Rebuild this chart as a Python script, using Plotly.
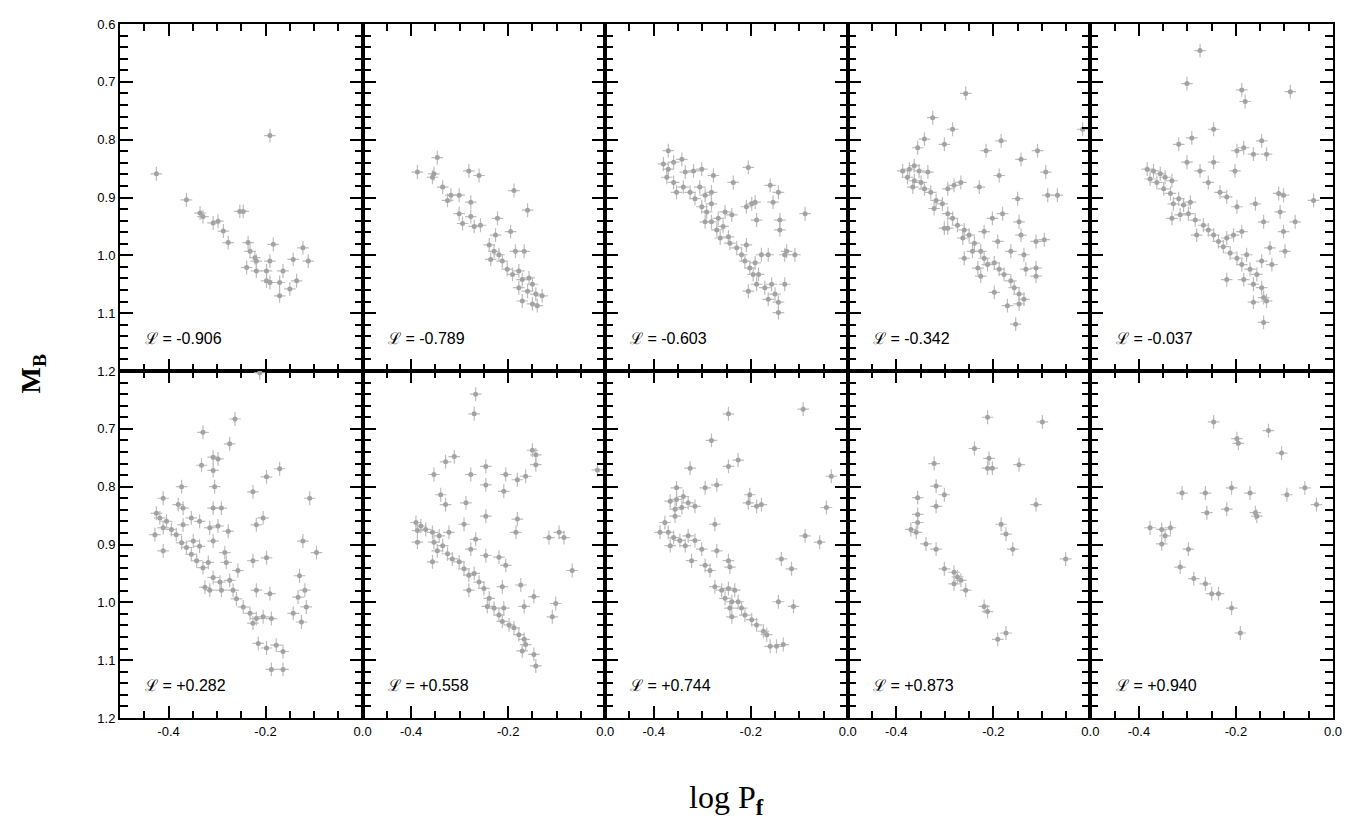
import plotly.graph_objects as go
from plotly.subplots import make_subplots

# ---------------- data (log P_f, M_B) per panel ----------------
L_VALUES = ["-0.906", "-0.789", "-0.603", "-0.342", "-0.037",
            "+0.282", "+0.558", "+0.744", "+0.873", "+0.940"]

P1_LOGP = [-0.191,-0.425,-0.363,-0.335,-0.329,-0.308,-0.298,-0.287,-0.277,-0.253,-0.246,-0.236,-0.232,-0.222,-0.219,
           -0.239,-0.219,-0.198,-0.191,-0.184,-0.198,-0.191,-0.171,-0.164,-0.171,-0.150,-0.136,-0.143,-0.123,-0.112]
P1_MB = [0.793,0.859,0.904,0.927,0.933,0.944,0.941,0.958,0.978,0.924,0.924,0.978,0.993,1.004,1.010,
         1.021,1.027,1.027,1.010,0.981,1.044,1.047,1.047,1.027,1.070,1.058,1.044,1.007,0.987,1.010]

P2_LOGP = [-0.346,-0.387,-0.356,-0.353,-0.335,-0.325,-0.318,-0.301,-0.277,-0.281,-0.260,-0.301,-0.294,-0.277,-0.257,
           -0.270,-0.222,-0.188,-0.160,-0.195,-0.226,-0.239,-0.229,-0.219,-0.236,-0.212,-0.185,-0.167,-0.202,-0.191,
           -0.178,-0.171,-0.157,-0.150,-0.160,-0.143,-0.130,-0.171,-0.150,-0.140,-0.178]
P2_MB = [0.831,0.856,0.865,0.859,0.882,0.905,0.896,0.896,0.908,0.854,0.862,0.928,0.945,0.933,0.948,
         0.950,0.936,0.888,0.922,0.959,0.965,0.982,0.993,0.999,1.007,1.010,0.993,0.993,1.024,1.033,
         1.027,1.042,1.039,1.050,1.062,1.067,1.070,1.079,1.084,1.087,1.056]

P3_LOGP = [-0.370,-0.380,-0.370,-0.359,-0.342,-0.373,-0.359,-0.353,-0.335,-0.318,-0.301,-0.339,-0.325,-0.315,-0.305,
           -0.294,-0.301,-0.291,-0.281,-0.277,-0.281,-0.294,-0.281,-0.267,-0.270,-0.257,-0.263,-0.246,-0.239,-0.253,
           -0.236,-0.243,-0.229,-0.219,-0.209,-0.212,-0.202,-0.191,-0.195,-0.184,-0.178,-0.164,-0.188,-0.205,-0.171,
           -0.157,-0.150,-0.164,-0.143,-0.143,-0.130,-0.130,-0.109,-0.126,-0.198,-0.209,-0.188,-0.160,-0.143,-0.154,
           -0.140,-0.140,-0.205,-0.088,-0.191]
P3_MB = [0.819,0.842,0.851,0.839,0.834,0.865,0.874,0.891,0.856,0.854,0.851,0.882,0.891,0.902,0.882,
         0.896,0.916,0.925,0.911,0.862,0.891,0.942,0.942,0.936,0.956,0.950,0.970,0.968,0.930,0.925,
         0.874,0.979,0.987,0.999,0.982,1.010,1.022,1.013,1.033,1.033,0.999,0.999,1.050,1.062,1.056,
         1.050,1.067,1.076,1.081,1.099,1.050,0.999,0.999,0.993,0.911,0.916,0.939,0.879,0.891,0.908,
         0.939,0.956,0.848,0.928,0.908]

P4_LOGP = [-0.257,-0.325,-0.284,-0.342,-0.356,-0.301,-0.184,-0.215,-0.143,-0.109,-0.092,-0.188,-0.088,-0.068,-0.150,
           -0.229,-0.016,-0.387,-0.373,-0.363,-0.353,-0.335,-0.377,-0.363,-0.349,-0.366,-0.342,-0.329,-0.318,-0.305,
           -0.322,-0.294,-0.281,-0.267,-0.294,-0.284,-0.274,-0.301,-0.260,-0.263,-0.250,-0.239,-0.243,-0.226,-0.219,
           -0.212,-0.198,-0.188,-0.178,-0.164,-0.157,-0.147,-0.137,-0.147,-0.171,-0.198,-0.226,-0.260,-0.154,-0.202,
           -0.181,-0.219,-0.191,-0.164,-0.143,-0.147,-0.112,-0.095,-0.137,-0.112,-0.112,-0.133,-0.232,-0.294]
P4_MB = [0.720,0.762,0.782,0.799,0.814,0.808,0.802,0.819,0.834,0.819,0.856,0.862,0.896,0.896,0.902,
         0.882,0.782,0.854,0.851,0.845,0.854,0.856,0.865,0.871,0.874,0.882,0.885,0.891,0.905,0.911,
         0.919,0.885,0.879,0.874,0.928,0.936,0.948,0.953,0.956,0.970,0.965,0.979,0.993,0.993,1.005,
         1.016,1.013,1.024,1.033,1.044,1.056,1.067,1.076,1.084,1.087,1.064,1.036,1.005,1.119,0.936,
         0.928,0.959,0.976,0.993,0.965,0.942,0.976,0.973,0.999,1.022,1.036,1.024,1.022,0.953]

P5_LOGP = [-0.274,-0.301,-0.188,-0.181,-0.088,-0.246,-0.291,-0.318,-0.301,-0.246,-0.198,-0.184,-0.164,-0.147,-0.137,
           -0.202,-0.274,-0.257,-0.233,-0.219,-0.198,-0.160,-0.112,-0.102,-0.040,-0.109,-0.143,-0.078,-0.102,-0.099,
           -0.130,-0.126,-0.383,-0.370,-0.356,-0.377,-0.363,-0.346,-0.332,-0.349,-0.335,-0.318,-0.329,-0.308,-0.294,
           -0.332,-0.315,-0.298,-0.284,-0.281,-0.267,-0.257,-0.246,-0.236,-0.226,-0.219,-0.205,-0.188,-0.212,-0.198,
           -0.219,-0.188,-0.178,-0.171,-0.157,-0.184,-0.164,-0.147,-0.143,-0.164,-0.137,-0.143,-0.147]
P5_MB = [0.646,0.703,0.714,0.734,0.717,0.782,0.797,0.808,0.839,0.839,0.819,0.814,0.825,0.802,0.825,
         0.854,0.854,0.874,0.891,0.899,0.916,0.911,0.893,0.896,0.905,0.925,0.942,0.942,0.959,0.993,
         0.987,1.016,0.851,0.854,0.859,0.868,0.874,0.865,0.871,0.885,0.893,0.902,0.911,0.913,0.908,
         0.936,0.930,0.928,0.939,0.965,0.948,0.956,0.965,0.976,0.985,0.970,0.965,0.959,0.996,1.005,
         1.042,1.016,0.999,1.024,1.033,1.042,1.050,1.056,1.073,1.081,1.079,1.116,1.010]

P6_LOGP = [-0.212,-0.263,-0.329,-0.274,-0.308,-0.298,-0.332,-0.308,-0.171,-0.198,-0.373,-0.305,-0.226,-0.109,-0.411,
           -0.380,-0.370,-0.308,-0.291,-0.205,-0.219,-0.425,-0.418,-0.404,-0.411,-0.428,-0.394,-0.384,-0.370,-0.353,
           -0.336,-0.315,-0.298,-0.277,-0.373,-0.363,-0.349,-0.336,-0.411,-0.353,-0.342,-0.329,-0.318,-0.308,-0.284,
           -0.281,-0.257,-0.308,-0.294,-0.274,-0.325,-0.315,-0.291,-0.267,-0.260,-0.246,-0.232,-0.219,-0.226,-0.205,
           -0.188,-0.226,-0.198,-0.219,-0.191,-0.130,-0.123,-0.095,-0.119,-0.133,-0.143,-0.126,-0.116,-0.215,-0.198,
           -0.178,-0.164,-0.188,-0.164]
P6_MB = [0.603,0.683,0.706,0.726,0.749,0.752,0.763,0.772,0.769,0.783,0.800,0.800,0.809,0.820,0.820,
         0.831,0.837,0.837,0.837,0.854,0.866,0.846,0.854,0.860,0.871,0.883,0.874,0.883,0.866,0.854,
         0.860,0.871,0.868,0.877,0.897,0.905,0.894,0.903,0.911,0.917,0.928,0.940,0.931,0.894,0.914,
         0.931,0.945,0.957,0.965,0.962,0.974,0.979,0.979,0.979,0.994,1.008,1.019,1.028,1.036,1.025,
         1.028,0.928,0.923,0.979,0.985,0.954,0.894,0.914,0.979,0.991,1.019,1.034,1.008,1.071,1.079,
         1.074,1.085,1.116,1.116]

P7_LOGP = [-0.267,-0.270,-0.150,-0.143,-0.143,-0.311,-0.329,-0.246,-0.353,-0.277,-0.205,-0.181,-0.164,-0.246,-0.209,
           -0.339,-0.329,-0.287,-0.016,-0.246,-0.181,-0.291,-0.184,-0.116,-0.095,-0.085,-0.068,-0.267,-0.277,-0.246,
           -0.219,-0.205,-0.212,-0.174,-0.147,-0.167,-0.102,-0.109,-0.390,-0.380,-0.387,-0.370,-0.356,-0.342,-0.322,
           -0.387,-0.353,-0.335,-0.346,-0.325,-0.315,-0.356,-0.301,-0.291,-0.281,-0.270,-0.260,-0.281,-0.250,-0.239,
           -0.243,-0.229,-0.219,-0.209,-0.212,-0.198,-0.188,-0.178,-0.167,-0.164,-0.171,-0.147,-0.143]
P7_MB = [0.640,0.674,0.737,0.745,0.762,0.748,0.757,0.765,0.779,0.779,0.779,0.788,0.782,0.797,0.808,
         0.814,0.831,0.828,0.771,0.851,0.856,0.865,0.879,0.888,0.879,0.888,0.945,0.891,0.908,0.919,
         0.922,0.936,0.973,0.970,0.990,1.007,1.002,1.025,0.862,0.868,0.876,0.874,0.879,0.885,0.879,
         0.896,0.896,0.902,0.911,0.916,0.925,0.930,0.930,0.942,0.953,0.950,0.965,0.979,0.976,0.993,
         1.007,1.010,1.022,1.010,1.033,1.039,1.044,1.056,1.064,1.073,1.084,1.090,1.110]

P8_LOGP = [-0.246,-0.092,-0.281,-0.226,-0.246,-0.325,-0.034,-0.270,-0.294,-0.353,-0.202,-0.205,-0.188,-0.178,-0.044,
           -0.366,-0.353,-0.339,-0.329,-0.315,-0.356,-0.342,-0.356,-0.377,-0.387,-0.370,-0.359,-0.346,-0.329,-0.315,
           -0.366,-0.335,-0.301,-0.274,-0.270,-0.322,-0.294,-0.284,-0.246,-0.243,-0.088,-0.058,-0.137,-0.116,-0.274,
           -0.260,-0.246,-0.233,-0.253,-0.239,-0.226,-0.243,-0.239,-0.219,-0.212,-0.198,-0.188,-0.174,-0.167,-0.160,
           -0.147,-0.133,-0.143,-0.112]
P8_MB = [0.674,0.666,0.720,0.754,0.765,0.768,0.782,0.797,0.802,0.802,0.814,0.828,0.834,0.831,0.836,
         0.825,0.822,0.817,0.828,0.834,0.839,0.836,0.851,0.862,0.879,0.879,0.888,0.893,0.885,0.893,
         0.902,0.902,0.908,0.865,0.911,0.928,0.936,0.945,0.928,0.939,0.885,0.896,0.925,0.942,0.973,
         0.979,0.976,0.979,0.993,0.999,0.999,1.010,1.025,1.010,1.022,1.030,1.039,1.050,1.056,1.076,
         1.076,1.073,0.999,1.007]

P9_LOGP = [-0.212,-0.099,-0.239,-0.209,-0.212,-0.202,-0.147,-0.322,-0.318,-0.301,-0.318,-0.356,-0.356,-0.112,-0.356,
           -0.370,-0.359,-0.184,-0.174,-0.160,-0.339,-0.318,-0.051,-0.301,-0.281,-0.274,-0.267,-0.281,-0.257,-0.219,
           -0.212,-0.191,-0.174]
P9_MB = [0.680,0.688,0.734,0.751,0.768,0.768,0.762,0.760,0.799,0.814,0.834,0.819,0.848,0.831,0.862,
         0.874,0.879,0.865,0.882,0.908,0.899,0.908,0.925,0.942,0.948,0.956,0.962,0.968,0.979,1.007,
         1.016,1.064,1.053]

P10_LOGP = [-0.246,-0.133,-0.198,-0.195,-0.106,-0.311,-0.263,-0.209,-0.171,-0.095,-0.058,-0.034,-0.260,-0.219,-0.160,
            -0.157,-0.377,-0.353,-0.335,-0.346,-0.353,-0.298,-0.315,-0.287,-0.263,-0.250,-0.236,-0.209,-0.191]
P10_MB = [0.688,0.703,0.717,0.725,0.742,0.811,0.811,0.802,0.811,0.814,0.802,0.831,0.845,0.839,0.845,
          0.851,0.871,0.874,0.871,0.885,0.899,0.908,0.939,0.959,0.968,0.985,0.985,1.010,1.053]

PANELS = [(P1_LOGP, P1_MB), (P2_LOGP, P2_MB), (P3_LOGP, P3_MB), (P4_LOGP, P4_MB), (P5_LOGP, P5_MB),
          (P6_LOGP, P6_MB), (P7_LOGP, P7_MB), (P8_LOGP, P8_MB), (P9_LOGP, P9_MB), (P10_LOGP, P10_MB)]

X_TICKS = [-0.4, -0.2, 0.0]
X_TICK_TEXT = ["-0.4", "-0.2", "0.0"]
Y_TICKS_TOP = [0.6, 0.7, 0.8, 0.9, 1.0, 1.1, 1.2]
Y_TICKS_BOTTOM = [0.7, 0.8, 0.9, 1.0, 1.1, 1.2]

ERR_LOGP = 0.012
ERR_MB = 0.012

# ---------------- figure ----------------
fig = make_subplots(rows=2, cols=5, horizontal_spacing=0, vertical_spacing=0)

POINT_COLOR = "#a3a3a3"
ERR_COLOR = "#bdbdbd"
TICK_FONT = dict(family="Liberation Sans, Arial, sans-serif", size=13, color="black")

for i, (xs, ys) in enumerate(PANELS):
    r = i // 5 + 1
    c = i % 5 + 1
    fig.add_trace(go.Scatter(
        x=xs, y=ys, mode="markers",
        marker=dict(size=5, color=POINT_COLOR, line=dict(width=0)),
        error_x=dict(type="constant", value=ERR_LOGP, color=ERR_COLOR, thickness=1.2, width=0),
        error_y=dict(type="constant", value=ERR_MB, color=ERR_COLOR, thickness=1.2, width=0),
        showlegend=False, hoverinfo="skip", cliponaxis=True,
    ), row=r, col=c)

    fig.update_xaxes(
        range=[-0.5, 0.0], tickmode="array", tickvals=X_TICKS, ticktext=X_TICK_TEXT,
        showticklabels=(r == 2), tickfont=TICK_FONT,
        ticks="inside", ticklen=12, tickwidth=1.5, tickcolor="black",
        minor=dict(tickmode="linear", tick0=0.0, dtick=0.05, ticks="inside", ticklen=7,
                   tickwidth=1.5, tickcolor="black", showgrid=False),
        showline=True, linewidth=2, linecolor="black", mirror="allticks",
        showgrid=False, zeroline=False, row=r, col=c)

    yt = Y_TICKS_TOP if r == 1 else Y_TICKS_BOTTOM
    fig.update_yaxes(
        range=[1.2, 0.6], tickmode="array", tickvals=yt, ticktext=[f"{v:.1f}" for v in yt],
        showticklabels=(c == 1), tickfont=TICK_FONT,
        ticks="inside", ticklen=13, tickwidth=1.5, tickcolor="black",
        minor=dict(tickmode="linear", tick0=0.6, dtick=0.02, ticks="inside", ticklen=8,
                   tickwidth=1.5, tickcolor="black", showgrid=False),
        showline=True, linewidth=2, linecolor="black", mirror="allticks",
        showgrid=False, zeroline=False, row=r, col=c)

    xref = "x" if i == 0 else f"x{i+1}"
    yref = "y" if i == 0 else f"y{i+1}"
    fig.add_annotation(
        x=-0.452, y=1.143, xref=xref, yref=yref, xanchor="left", yanchor="middle",
        text=f"ℒ = {L_VALUES[i]}", showarrow=False,
        font=dict(family="Liberation Sans, Arial, sans-serif", size=16, color="black"))

fig.add_annotation(
    x=-0.072, y=0.496, xref="paper", yref="paper", xanchor="center", yanchor="middle",
    text="<b>M<sub>B</sub></b>", textangle=-90, showarrow=False,
    font=dict(family="Liberation Serif, Times New Roman, serif", size=28, color="black"))
fig.add_annotation(
    x=0.5, y=-0.117, xref="paper", yref="paper", xanchor="center", yanchor="middle",
    text="log P<sub><b>f</b></sub>", showarrow=False,
    font=dict(family="Liberation Serif, Times New Roman, serif", size=32, color="black"))

# page body has an 8px margin, so the figure is offset by 8px and sized to fit
fig.update_layout(
    width=1345, height=816,
    margin=dict(l=112, r=20, t=9, b=106),
    paper_bgcolor="white", plot_bgcolor="white",
)

fig.write_html("out.html")
